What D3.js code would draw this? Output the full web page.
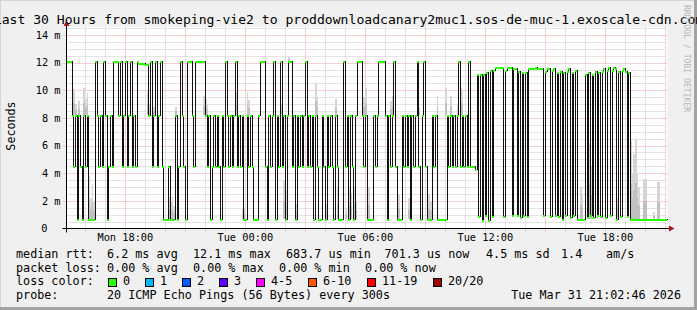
<!DOCTYPE html>
<html>
<head>
<meta charset="utf-8">
<script src="https://cdn.jsdelivr.net/npm/d3@7"></script>
<style>
body { margin: 0; background: #f0f0f0; overflow: hidden; }
text { font-family: "DejaVu Sans Mono", monospace; fill: #000; }
</style>
</head>
<body>
<div id="chart"></div>
<script>
// median rtt per 5 minute step (ms)
var median = [
  12.1, 12.1, 12.1, 8.2, 4.5, 8.2, 0.7, 8.2, 4.5, 0.7,
  8.2, 4.5, 8.2, 0.7, 0.7, 0.7, 0.7, 12.1, 8.2, 4.5,
  8.2, 4.5, 12.1, 8.2, 0.7, 4.5, 8.2, 4.5, 12.1, 12.1,
  12.1, 8.2, 12.1, 4.5, 8.2, 12.1, 4.5, 8.2, 12.1, 4.5,
  8.2, 4.5, 12.1, 12.0, 12.0, 12.0, 12.0, 11.9, 11.9, 8.2,
  12.1, 4.5, 8.2, 12.1, 4.5, 8.2, 12.1, 4.5, 0.7, 0.7,
  0.7, 4.5, 0.7, 0.7, 0.7, 8.2, 0.7, 4.5, 12.1, 8.2,
  4.5, 0.7, 12.1, 12.1, 12.1, 8.2, 4.5, 12.1, 12.1, 12.1,
  12.1, 12.1, 12.1, 8.2, 4.5, 8.2, 0.7, 4.5, 8.2, 4.5,
  8.2, 4.5, 0.7, 8.2, 4.5, 12.1, 8.2, 4.5, 8.2, 4.5,
  8.2, 12.1, 4.5, 8.2, 4.5, 8.2, 0.7, 0.7, 8.2, 4.5,
  8.2, 4.5, 0.7, 0.7, 0.7, 8.2, 12.1, 12.1, 12.1, 4.5,
  0.7, 8.2, 4.5, 8.2, 12.1, 0.7, 8.2, 4.5, 12.1, 4.5,
  8.2, 0.7, 8.2, 12.1, 12.1, 4.5, 8.2, 0.7, 8.2, 4.5,
  8.2, 4.5, 8.2, 12.1, 4.5, 8.2, 4.5, 8.2, 0.7, 8.2,
  4.5, 0.7, 0.7, 8.2, 4.5, 0.7, 8.2, 4.5, 8.2, 4.5,
  0.7, 8.2, 4.5, 0.7, 0.7, 0.7, 12.1, 4.5, 8.2, 0.7,
  8.2, 4.5, 0.7, 8.2, 12.1, 12.1, 12.1, 8.2, 4.5, 8.2,
  0.7, 0.7, 0.7, 0.7, 8.2, 4.5, 8.2, 12.1, 12.1, 12.1,
  12.1, 8.2, 0.7, 8.2, 4.5, 8.2, 12.1, 4.5, 0.7, 0.7,
  0.7, 8.2, 4.5, 8.2, 4.5, 8.2, 0.7, 8.2, 4.5, 8.2,
  12.1, 4.5, 0.7, 8.2, 12.1, 4.5, 0.7, 0.7, 0.7, 8.2,
  4.5, 8.2, 0.7, 0.7, 0.7, 0.7, 0.7, 0.7, 8.2, 4.5,
  8.2, 4.5, 8.2, 4.5, 8.2, 12.1, 4.5, 8.2, 4.5, 8.2,
  4.5, 12.1, 4.5, 4.5, 4.5, 4.3, 11.2, 0.9, 11.2, 0.6,
  11.2, 1.0, 11.3, 0.6, 11.5, 0.9, 11.5, 11.7, 11.7, 11.7,
  11.7, 11.7, 0.9, 11.5, 11.7, 11.7, 11.7, 1.0, 11.6, 11.6,
  1.0, 11.4, 0.8, 11.3, 1.0, 11.3, 0.9, 11.6, 11.6, 11.6,
  11.6, 11.7, 11.6, 11.6, 11.6, 11.6, 1.0, 11.4, 11.6, 11.6,
  0.9, 11.5, 11.6, 1.0, 11.3, 0.9, 11.4, 0.7, 11.3, 1.0,
  11.4, 11.6, 0.8, 11.3, 1.0, 11.5, 0.7, 0.7, 0.7, 0.7,
  0.7, 11.2, 0.8, 11.3, 1.0, 11.2, 0.8, 11.4, 1.0, 11.3,
  0.9, 11.4, 11.6, 0.8, 11.5, 11.7, 1.0, 11.5, 11.7, 11.6,
  0.7, 11.4, 0.9, 11.5, 11.6, 11.4, 0.9, 11.3, 0.7, 0.7,
  0.7, 0.7, 0.7, 0.7, 0.7, 0.7, 0.7, 0.7, 0.7, 0.7,
  0.7, 0.7, 0.7, 0.7, 0.7, 0.7, 0.7, 0.7, 0.7, 0.7
];

// smoke: [step, low ms, high ms]
var smoke = [
  [4, 8.2, 10.1], [5, 8.2, 9.0], [7, 8.2, 9.2], [10, 8.2, 10.2], [11, 8.2, 9.4], [12, 8.2, 9.8],
  [13, 0.7, 3.8], [14, 0.7, 2.2], [15, 0.7, 3.2], [16, 0.7, 2.0], [24, 0.7, 1.2],
  [48, 8.2, 10.0], [49, 8.2, 9.0], [51, 8.2, 10.1], [52, 8.2, 8.8],
  [61, 0.7, 2.3], [62, 0.7, 2.0], [63, 0.7, 2.3], [64, 0.7, 1.6], [65, 8.2, 8.8],
  [82, 8.2, 9.6], [83, 8.2, 9.4], [84, 8.2, 9.0],
  [101, 8.2, 9.9], [102, 8.2, 9.2], [105, 0.7, 1.4], [106, 0.7, 1.4], [108, 8.2, 9.9], [109, 8.2, 9.3],
  [128, 8.2, 9.0], [130, 0.7, 3.5], [131, 0.7, 2.8], [133, 12.1, 12.4], [137, 0.7, 1.8],
  [149, 8.2, 10.5], [150, 8.2, 9.5], [155, 0.7, 1.8], [161, 8.2, 9.4], [162, 0.7, 3.0],
  [167, 0.7, 1.5], [169, 0.7, 3.0], [170, 0.7, 2.6], [172, 0.7, 3.0], [173, 0.7, 2.0],
  [177, 8.2, 10.2], [178, 8.2, 9.5], [179, 8.2, 10.2], [180, 0.7, 3.4], [181, 0.7, 3.0],
  [194, 8.2, 9.2], [195, 8.2, 9.6], [198, 0.7, 3.2], [199, 0.7, 2.5], [205, 0.7, 2.2],
  [211, 8.2, 8.7], [217, 0.7, 2.5], [218, 0.7, 2.0], [222, 8.2, 9.6], [227, 8.2, 10.2],
  [230, 8.2, 9.6], [234, 8.2, 8.9], [236, 8.2, 10.2], [237, 8.2, 10.0],
  [306, 0.7, 2.0], [308, 0.7, 3.0], [309, 0.7, 2.5], [313, 0.7, 6.2], [314, 0.7, 4.5], [315, 0.7, 3.0],
  [318, 0.7, 2.3], [321, 0.7, 5.8], [324, 0.7, 3.0], [330, 0.7, 2.2],
  [338, 0.7, 6.3], [339, 0.7, 4.0], [340, 0.7, 5.4], [341, 0.7, 6.5], [342, 0.7, 4.0], [343, 0.7, 3.0],
  [346, 0.7, 3.6], [347, 0.7, 3.6], [352, 0.7, 1.2], [354, 0.7, 3.4], [355, 0.7, 3.4]
];

var yTicks = [0, 2, 4, 6, 8, 10, 12, 14];
var rttLabel = "median rtt:";
var rttStats = ["6.2 ms avg", "12.1 ms max", "683.7 us min", "701.3 us now", "4.5 ms sd", "1.4", "am/s"];
var lossLabel = "packet loss:";
var lossStats = ["0.00 % avg", "0.00 % max", "0.00 % min", "0.00 % now"];
var lossNames = ["0", "1", "2", "3", "4-5", "6-10", "11-19", "20/20"];
var lossColors = ["#26ff00", "#00b8ff", "#0059ff", "#5e00ff", "#ff00ff", "#ff5500", "#ff0000", "#a10000"];
var probeText = "20 ICMP Echo Pings (56 Bytes) every 300s";
var stamp = "Tue Mar 31 21:02:46 2026";
var title = "Last 30 Hours from smokeping-vie2 to proddownloadcanary2muc1.sos-de-muc-1.exoscale-cdn.com";

var W = 697, H = 310;
var plotL = 66.5, plotR = 666.5, plotB = 228.5, plotT = 26.7;
var step = 5 * 60 * 1000;
var t0 = new Date(2026, 2, 30, 15, 5);
var t1 = new Date(t0.getTime() + 360 * step);

var x = d3.scaleTime().domain([t0, t1]).range([plotL, plotR]);
var y = d3.scaleLinear().domain([0, 14.6]).range([plotB, plotT]);

function stepTime(i) { return new Date(t0.getTime() + i * step); }

var svg = d3.select("#chart").append("svg")
    .attr("width", W)
    .attr("height", H);

svg.append("rect").attr("width", W).attr("height", H).attr("fill", "#f0f0f0");
// 3d frame
svg.append("path").attr("d", "M0,0H697V1H1V310H0Z").attr("fill", "#d6d6d6");
svg.append("path").attr("d", "M697,0V310H0V307H694V0Z").attr("fill", "#a3a3a3");

// canvas
svg.append("rect")
    .attr("x", plotL).attr("y", plotT)
    .attr("width", plotR - plotL + 1).attr("height", plotB - plotT)
    .attr("fill", "#fff");

// grid
var grid = svg.append("g").attr("stroke-width", 1).attr("stroke-dasharray", "1,1").attr("fill", "none");
var minorY = d3.range(0.5, 14.6, 0.5).filter(function(v) { return v % 2 != 0; });
grid.selectAll(".gy").data(minorY).enter().append("line")
    .attr("x1", plotL).attr("x2", plotR)
    .attr("y1", function(d) { return Math.round(y(d)) + 0.5; })
    .attr("y2", function(d) { return Math.round(y(d)) + 0.5; })
    .attr("stroke", "#c8c8c8");
var hours = d3.timeHour.range(d3.timeHour.ceil(t0), t1);
grid.selectAll(".gx").data(hours.filter(function(d) { return d.getHours() % 3 != 0; })).enter().append("line")
    .attr("y1", plotT).attr("y2", plotB + 3)
    .attr("x1", function(d) { return Math.round(x(d)) + 0.5; })
    .attr("x2", function(d) { return Math.round(x(d)) + 0.5; })
    .attr("stroke", "#c8c8c8");
grid.selectAll(".my").data(yTicks.filter(function(d) { return d > 0; })).enter().append("line")
    .attr("x1", plotL - 3).attr("x2", plotR)
    .attr("y1", function(d) { return Math.round(y(d)) + 0.5; })
    .attr("y2", function(d) { return Math.round(y(d)) + 0.5; })
    .attr("stroke", "#eba3a3");
grid.selectAll(".mx").data(hours.filter(function(d) { return d.getHours() % 3 == 0; })).enter().append("line")
    .attr("y1", plotT).attr("y2", plotB + 3)
    .attr("x1", function(d) { return Math.round(x(d)) + 0.5; })
    .attr("x2", function(d) { return Math.round(x(d)) + 0.5; })
    .attr("stroke", "#eba3a3");

// smoke
var sw = x(stepTime(1)) - x(t0);
var smokeG = svg.append("g").attr("shape-rendering", "crispEdges");
smokeG.selectAll(".outer").data(smoke).enter().append("rect")
    .attr("x", function(d) { return x(stepTime(d[0])); })
    .attr("width", sw)
    .attr("y", function(d) { return y(d[2]); })
    .attr("height", function(d) { return y(d[1]) - y(d[2]); })
    .attr("fill", "#d6d6d6");
smokeG.selectAll(".inner").data(smoke).enter().append("rect")
    .attr("x", function(d) { return x(stepTime(d[0])); })
    .attr("width", sw)
    .attr("y", function(d) { return y(d[1] + (d[2] - d[1]) * 0.45); })
    .attr("height", function(d) { return y(d[1]) - y(d[1] + (d[2] - d[1]) * 0.45); })
    .attr("fill", "#c0c0c0");

// median step line
var pts = median.map(function(v, i) { return [stepTime(i), v]; });
pts.push([t1, median[median.length - 1]]);

var line = d3.line()
    .x(function(d) { return Math.round(x(d[0])) + 0.5; })
    .y(function(d) { return Math.round(y(d[1])) + 0.5; })
    .curve(d3.curveStepAfter);

svg.append("path")
    .datum(pts)
    .attr("d", line)
    .attr("fill", "none")
    .attr("stroke", "#111")
    .attr("stroke-width", 1)
    .attr("shape-rendering", "crispEdges");

// loss colour (0 loss everywhere) on each step
svg.append("g").attr("shape-rendering", "crispEdges")
    .selectAll("rect").data(median).enter().append("rect")
    .attr("x", function(d, i) { return Math.round(x(stepTime(i))); })
    .attr("width", function(d, i) { return Math.max(2, Math.round(x(stepTime(i + 1))) - Math.round(x(stepTime(i)))); })
    .attr("y", function(d) { return Math.round(y(d)); })
    .attr("height", 2)
    .attr("fill", lossColors[0]);

// axes
var yAxis = d3.axisLeft(y)
    .tickValues(yTicks)
    .tickSize(0)
    .tickPadding(6)
    .tickFormat(function(d) { return d ? d + " m" : "0"; });
var yg = svg.append("g")
    .attr("transform", "translate(" + plotL + ",0)")
    .call(yAxis);
yg.select(".domain").remove();
yg.selectAll("text")
    .attr("font-family", "DejaVu Sans Mono")
    .attr("font-size", "10.3px")
    .attr("fill", "#000")
    .attr("x", function(d) { return d ? -6 : -19; });

var xAxis = d3.axisBottom(x)
    .tickValues(hours.filter(function(d) { return d.getHours() % 6 == 0; }))
    .tickSize(0)
    .tickFormat(d3.timeFormat("%a %H:%M"));
var xg = svg.append("g")
    .attr("transform", "translate(0," + plotB + ")")
    .call(xAxis);
xg.select(".domain").remove();
xg.selectAll("text")
    .attr("font-family", "DejaVu Sans Mono")
    .attr("font-size", "10.3px")
    .attr("fill", "#000")
    .attr("dy", null)
    .attr("y", 12.5);

// axis lines with arrows
svg.append("line").attr("x1", plotL - 4).attr("x2", 670).attr("y1", plotB).attr("y2", plotB)
    .attr("stroke", "#000").attr("stroke-width", 1);
svg.append("line").attr("x1", plotL).attr("x2", plotL).attr("y1", plotB + 4).attr("y2", 24)
    .attr("stroke", "#000").attr("stroke-width", 1);
svg.append("path").attr("d", "M669,225.5L674.5,228.5L669,231.5Z").attr("fill", "#a01818");
svg.append("path").attr("d", "M63.5,26L66.5,20.5L69.5,26Z").attr("fill", "#a01818");

// title and unit
svg.append("text")
    .attr("x", 348.5).attr("y", 24)
    .attr("text-anchor", "middle")
    .attr("font-size", "13.1px")
    .text(title);

svg.append("text")
    .attr("transform", "translate(14.5,126) rotate(-90)")
    .attr("text-anchor", "middle")
    .attr("font-size", "11.7px")
    .text("Seconds");

svg.append("text")
    .attr("transform", "translate(684,5) rotate(90)")
    .attr("font-size", "8.1px")
    .style("fill", "#b8b8b8")
    .text("RRDTOOL / TOBI OETIKER");

// legend
var cw = 7.07;
var leg = svg.append("g").attr("font-size", "11.75px");
var rttX = [107, 193, 286, 384.5, 486, 561, 606];
leg.append("text").attr("x", 16).attr("y", 258).text(rttLabel);
leg.selectAll(".rtt").data(rttStats).enter().append("text")
    .attr("x", function(d, i) { return rttX[i]; })
    .attr("y", 258)
    .text(function(d) { return d; });

var lossX = [107, 193, 279, 365];
leg.append("text").attr("x", 16).attr("y", 271.5).text(lossLabel);
leg.selectAll(".loss").data(lossStats).enter().append("text")
    .attr("x", function(d, i) { return lossX[i]; })
    .attr("y", 271.5)
    .text(function(d) { return d; });

leg.append("text").attr("x", 16).attr("y", 285.3).text("loss color:");
var bx = 108.5;
lossNames.forEach(function(n, i) {
    leg.append("rect")
        .attr("x", bx).attr("y", 278.5)
        .attr("width", 8).attr("height", 8)
        .attr("fill", lossColors[i])
        .attr("stroke", "#000").attr("stroke-width", 1);
    leg.append("text").attr("x", bx + 14.5).attr("y", 285.3).text(n);
    bx = Math.round(bx + 14.5 + n.length * cw + 15.3) + 0.5;
});

leg.append("text").attr("x", 16).attr("y", 299.3).text("probe:");
leg.append("text").attr("x", 107).attr("y", 299.3).text(probeText);
leg.append("text").attr("x", 681).attr("y", 299.3).attr("text-anchor", "end").text(stamp);
</script>
</body>
</html>
